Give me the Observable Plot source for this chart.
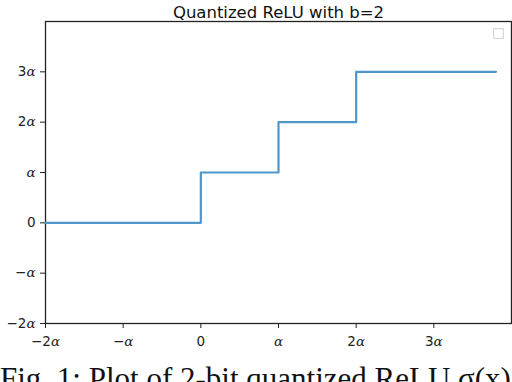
<!DOCTYPE html>
<html>
<head>
<meta charset="utf-8">
<script src="https://cdn.jsdelivr.net/npm/d3@7"></script>
<script src="https://cdn.jsdelivr.net/npm/@observablehq/plot@0.6"></script>
<style>
  html, body { margin: 0; padding: 0; background: #fff; }
  #wrap { position: relative; width: 512px; height: 382px; overflow: hidden; }
  #caption { position: absolute; left: 0; top: 363px; font-family: "Liberation Serif", serif; font-size: 31px; line-height: 31px; white-space: nowrap; color: #111; }
</style>
</head>
<body>
<div id="wrap"><div id="chart"></div><div id="caption">Fig. 1: Plot of 2-bit quantized ReLU σ(x)</div></div>
<script>
const title = "Quantized ReLU with b=2";
const xs = [-2, 0, 1, 2, 3.8];
const ys = [0, 1, 2, 3, 3];
const tickValues = [-2, -1, 0, 1, 2, 3];
const tickLabels = ["−2α", "−α", "0", "α", "2α", "3α"];

const data = xs.map((x, i) => ({x, y: ys[i]}));
const fmt = v => tickLabels[tickValues.indexOf(v)];

const chart = Plot.plot({
  width: 512,
  height: 360,
  marginLeft: 45,
  marginRight: 1,
  marginTop: 21,
  marginBottom: 37,
  style: {fontFamily: "DejaVu Sans", fontSize: "13.5px", color: "#222", background: "#fff"},
  x: {domain: [-2, 4], ticks: tickValues, tickFormat: fmt, tickSize: 5, tickPadding: 8, label: null},
  y: {domain: [-2, 4], ticks: tickValues, tickFormat: fmt, tickSize: 5, tickPadding: 5, label: null},
  marks: [
    Plot.frame({stroke: "#222", strokeWidth: 1.3}),
    Plot.line(data, {x: "x", y: "y", curve: "step-after", stroke: "#4f97c9", strokeWidth: 2.2}),
    Plot.dot([0], {frameAnchor: "top-right", dx: -13, dy: 12, symbol: "square", r: 5.5, stroke: "#d0d0d0", fill: "none", strokeWidth: 1}),
    Plot.text([title], {frameAnchor: "top", lineAnchor: "bottom", dy: -4, text: d => d, fontSize: 16.5, fill: "#111"})
  ]
});
document.getElementById("chart").appendChild(chart);

// render α in italic serif like mathtext
chart.querySelectorAll('g[aria-label$="tick label"] text').forEach(t => {
  const s = t.textContent;
  if (s.includes("α")) {
    const pre = s.replace("α", "");
    t.textContent = "";
    if (pre) {
      const a = document.createElementNS("http://www.w3.org/2000/svg", "tspan");
      a.textContent = pre;
      t.appendChild(a);
    }
    const b = document.createElementNS("http://www.w3.org/2000/svg", "tspan");
    b.textContent = "α";
    b.setAttribute("font-family", "DejaVu Serif");
    b.setAttribute("font-style", "italic");
    t.appendChild(b);
  }
});
</script>
</body>
</html>
